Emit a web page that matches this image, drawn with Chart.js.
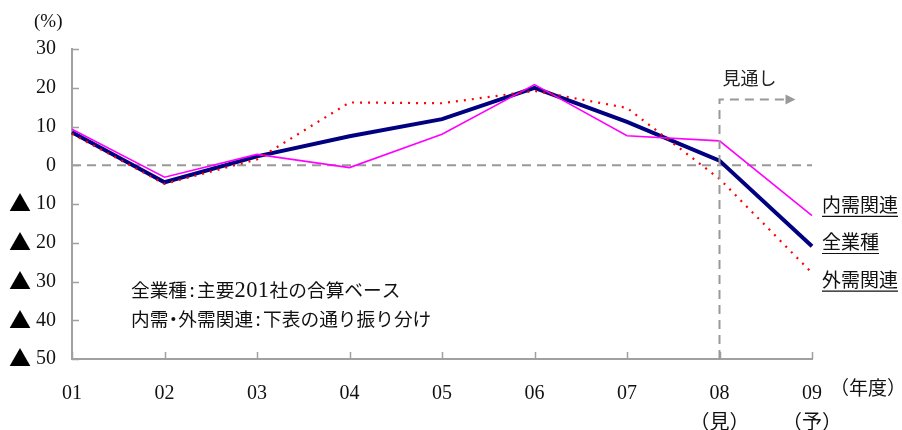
<!DOCTYPE html>
<html>
<head>
<meta charset="utf-8">
<script src="https://cdn.jsdelivr.net/npm/chart.js@4.4.1/dist/chart.umd.min.js"></script>
<style>
  html, body { margin: 0; padding: 0; background: #fff; }
  #wrap { width: 902px; height: 430px; position: relative; }
</style>
</head>
<body>
<div id="wrap"><canvas id="chart"></canvas></div>
<script>
// ── data ──
const years      = ['01', '02', '03', '04', '05', '06', '07', '08', '09'];
const yearNotes  = ['', '', '', '', '', '', '', '（見）', '（予）'];
const allIndustry = [8.5, -4.4, 2.3, 7.5, 11.9, 20.0, 11.2, 1.2, -20.9];  // 全業種
const domestic    = [9.3, -3.1, 2.8, -0.6, 8.0, 20.8, 7.6, 6.3, -13.0];  // 内需関連
const external    = [8.1, -4.8, 1.5, 16.2, 16.0, 19.2, 14.8, -3.5, -27.8]; // 外需関連
const seriesNames = ['全業種', '内需関連', '外需関連'];
const yMin = -50, yMax = 30, yStep = 10;
const outlookLabel = '見通し';
const noteLines = ['全業種:主要201社の合算ベース', '内需・外需関連:下表の通り振り分け'];

const serif = "'Liberation Serif', 'DejaVu Serif', serif";
const jp    = "'Noto Sans CJK JP', 'Noto Sans', sans-serif";
const mixed = "'Liberation Serif', 'Noto Sans CJK JP', serif";
const axisC = '#a0a0a0';
const guideC = '#999999';

// draws Japanese text with Latin digits in serif and narrow ':' / '・'
function drawMixedText(ctx, text, x, y, size) {
  let cx = x;
  for (const ch of text) {
    if (ch === ':' || ch === '・') {
      ctx.font = size + 'px ' + jp;
      const w = ctx.measureText(ch).width;
      ctx.fillText(ch, cx + 5 - w / 2, y);
      cx += 10;
    } else if (/[0-9A-Za-z]/.test(ch)) {
      ctx.font = (size * 1.2) + 'px ' + serif;
      ctx.fillText(ch, cx, y + 1);
      cx += ctx.measureText(ch).width + 0.5;
    } else {
      ctx.font = size + 'px ' + jp;
      ctx.fillText(ch, cx, y);
      cx += ctx.measureText(ch).width;
    }
  }
}

// inward tick marks, zero line, outlook arrow, end labels, note text
const decorations = {
  id: 'decorations',
  afterDatasetsDraw(chart) {
    const { ctx, chartArea: a, scales: { x, y } } = chart;
    ctx.save();

    // tick marks pointing into the plot
    ctx.strokeStyle = axisC;
    ctx.lineWidth = 1.5;
    ctx.beginPath();
    for (let v = yMin; v <= yMax; v += yStep) {
      const py = Math.round(y.getPixelForValue(v)) + 0.5;
      ctx.moveTo(a.left, py); ctx.lineTo(a.left + 7, py);
    }
    years.forEach((_, i) => {
      const px = Math.round(x.getPixelForValue(i)) + 0.5;
      ctx.moveTo(px, a.bottom); ctx.lineTo(px, a.bottom - 7);
    });
    ctx.stroke();

    // ▲ marks (minus sign) in front of negative tick labels
    ctx.fillStyle = '#000';
    ctx.font = '22px ' + jp;
    ctx.textAlign = 'center';
    ctx.textBaseline = 'middle';
    for (let v = yMin; v < 0; v += yStep) {
      ctx.fillText('▲', 20, y.getPixelForValue(v) - 1);
    }

    // outlook bracket + arrow
    const x8 = x.getPixelForValue(7), x9 = x.getPixelForValue(8);
    const yArrow = y.getPixelForValue(17);
    const xEnd = x8 + (x9 - x8) * 0.8;
    ctx.strokeStyle = guideC;
    ctx.lineWidth = 2;
    ctx.setLineDash([9, 6]);
    ctx.beginPath();
    ctx.moveTo(x8, a.bottom); ctx.lineTo(x8, yArrow); ctx.lineTo(xEnd - 8, yArrow);
    ctx.stroke();
    ctx.setLineDash([]);
    ctx.fillStyle = guideC;
    ctx.beginPath();
    ctx.moveTo(xEnd + 2, yArrow); ctx.lineTo(xEnd - 8, yArrow - 5); ctx.lineTo(xEnd - 8, yArrow + 5);
    ctx.closePath(); ctx.fill();

    ctx.fillStyle = '#222';
    ctx.font = '18px ' + jp;
    ctx.textAlign = 'left';
    ctx.fillText(outlookLabel, x8 + 3, yArrow - 21);

    // series end labels (underlined)
    ctx.font = '19px ' + jp;
    const endLabels = [
      { text: seriesNames[1], v: -10.2 },
      { text: seriesNames[0], v: -19.8 },
      { text: seriesNames[2], v: -29.5 },
    ];
    endLabels.forEach(l => {
      const py = y.getPixelForValue(l.v);
      const lx = x9 + 10;
      ctx.fillStyle = '#111';
      ctx.fillText(l.text, lx, py);
      const w = ctx.measureText(l.text).width;
      ctx.strokeStyle = '#111';
      ctx.lineWidth = 1.2;
      ctx.beginPath();
      ctx.moveTo(lx, py + 11.5); ctx.lineTo(lx + w, py + 11.5);
      ctx.stroke();
    });

    // note text
    ctx.fillStyle = '#111';
    noteLines.forEach((t, i) => drawMixedText(ctx, t, 131, 290 + i * 29, 18.7));

    // unit labels
    ctx.font = '19px ' + mixed;
    ctx.fillText('(%)', 34, 22);
    ctx.fillText('（年度）', x9 + 18, 390);

    ctx.restore();
  },
  beforeDatasetsDraw(chart) {
    const { ctx, chartArea: a, scales: { y } } = chart;
    const py = y.getPixelForValue(0);
    ctx.save();
    ctx.strokeStyle = guideC;
    ctx.lineWidth = 2;
    ctx.setLineDash([9, 6]);
    ctx.beginPath();
    ctx.moveTo(a.left, py); ctx.lineTo(a.right, py);
    ctx.stroke();
    ctx.restore();
  }
};

new Chart(document.getElementById('chart'), {
  type: 'line',
  data: {
    labels: years.map((yr, i) => yearNotes[i] ? [yr, yearNotes[i]] : yr),
    datasets: [
      { label: seriesNames[2], data: external, borderColor: '#ff0000', borderWidth: 2.2,
        borderDash: [2, 6], pointRadius: 0, tension: 0 },
      { label: seriesNames[1], data: domestic, borderColor: '#ff00ff', borderWidth: 1.6,
        pointRadius: 0, tension: 0 },
      { label: seriesNames[0], data: allIndustry, borderColor: '#000080', borderWidth: 4,
        pointRadius: 0, tension: 0 },
    ],
  },
  options: {
    responsive: true,
    maintainAspectRatio: false,
    animation: false,
    layout: { padding: { top: 49, right: 90, left: 0, bottom: 0 } },
    plugins: { legend: { display: false }, tooltip: { enabled: false } },
    scales: {
      x: {
        offset: false,
        grid: { display: false, drawTicks: false },
        border: { color: axisC, width: 2 },
        ticks: {
          color: '#111', padding: 20, maxRotation: 0, autoSkip: false,
          font: { family: mixed, size: 20, lineHeight: 1.5 },
        },
        afterFit(s) { s.height = 71; },
      },
      y: {
        min: yMin, max: yMax,
        grid: { display: false, drawTicks: false },
        border: { color: axisC, width: 2 },
        ticks: {
          stepSize: yStep, color: '#111', padding: 16,
          font: { family: serif, size: 20 },
          callback: v => String(Math.abs(v)),
        },
        afterFit(s) { s.width = 72; },
      },
    },
  },
  plugins: [decorations],
});
</script>
</body>
</html>
